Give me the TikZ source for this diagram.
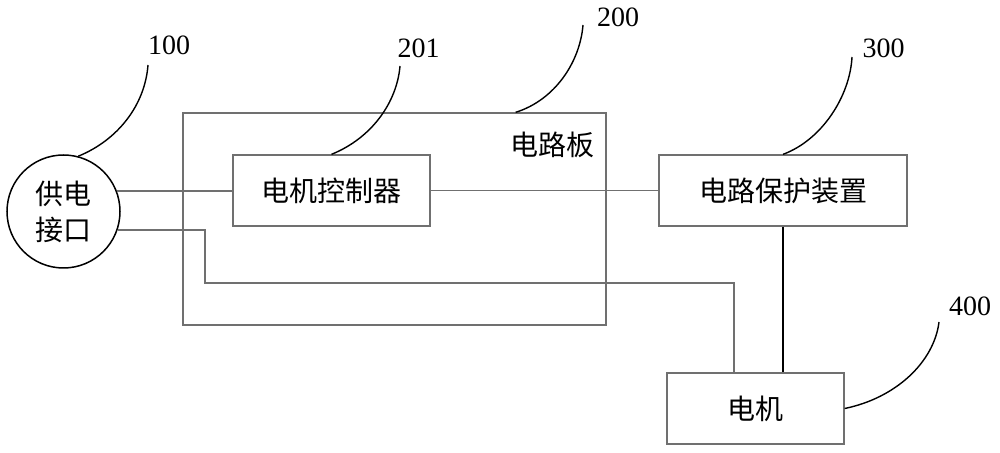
\documentclass[tikz,border=0pt]{standalone}
\usepackage{fontspec}
\setmainfont{Liberation Serif}
\newfontfamily\cjk{Noto Sans CJK SC}
\usepackage{xcolor}
\usepackage{tikz}
\usetikzlibrary{positioning, calc}
\definecolor{wiregray}{HTML}{707070}

\begin{document}
\begin{tikzpicture}[
    x=0.5pt, y=-0.5pt,
    block/.style={rectangle, draw=wiregray, line width=0.65pt, inner sep=0pt, minimum height=35.5pt, font=\cjk\fontsize{14}{17}\selectfont},
    port/.style={circle, draw=black, line width=0.75pt, minimum size=56.5pt, inner sep=0pt, align=center, font=\cjk\fontsize{14}{18}\selectfont},
    board/.style={rectangle, draw=wiregray, line width=0.65pt, minimum width=211.5pt, minimum height=106pt},
    wire/.style={draw=wiregray, line width=0.65pt},
    leader/.style={draw=black, line width=0.7pt},
    tag/.style={font=\fontsize{14}{17}\selectfont, inner sep=0pt},
  ]
  \useasboundingbox (0,0) rectangle (1000,453);
  % Blocks
  \node[port] (power) at (63.5,211.5) {供电\\接口};
  \node[board] (pcb) at (394.5,219) {};
  \node[font=\cjk\fontsize{14}{17}\selectfont] (pcblbl) at ($(pcb.north east)+(-54,33)$) {电路板};
  \node[block, minimum width=98.5pt] (ctrl) at (331.5,190.5) {电机控制器};
  \node[block, minimum width=124pt] (prot) at (783,190.5) {电路保护装置};
  \node[block, minimum width=88.5pt] (motor) at (755.5,408.5) {电机};
  % Reference numbers
  \node[tag] (t100) at (169,45) {100};
  \node[tag] (t200) at (618,17) {200};
  \node[tag] (t201) at (418.5,48) {201};
  \node[tag] (t300) at (883.5,48) {300};
  \node[tag] (t400) at (970,306) {400};
  \coordinate (e100) at (148,65);
  \coordinate (e200) at (583,25);
  \coordinate (e201) at (400,66);
  \coordinate (e300) at (852,57);
  \coordinate (e400) at (939,322);
  % Wires
  \coordinate (bend) at (205,283);
  \coordinate (motorin) at (734,373);
  \draw[wire] (power.21) -- (power.21 -| ctrl.west);
  \draw[wire] (ctrl.east) -- (prot.west);
  \draw[wire] (power.-19) -| (bend) -| (motorin);
  \draw[leader, line width=0.6pt] (prot.south) -- (prot.south |- motor.north);
  % Leader lines
  \draw[leader] (power.75) .. controls (118,140) and (145,105) .. (e100);
  \draw[leader] ($(pcb.north east)+(-91,0)$) .. controls (555,100) and (580,62) .. (e200);
  \draw[leader] (ctrl.north) .. controls (372,138) and (397,102) .. (e201);
  \draw[leader] (prot.north) .. controls (822,140) and (850,96) .. (e300);
  \draw[leader] (motor.east) .. controls (896,398) and (934,362) .. (e400);
\end{tikzpicture}
\end{document}
